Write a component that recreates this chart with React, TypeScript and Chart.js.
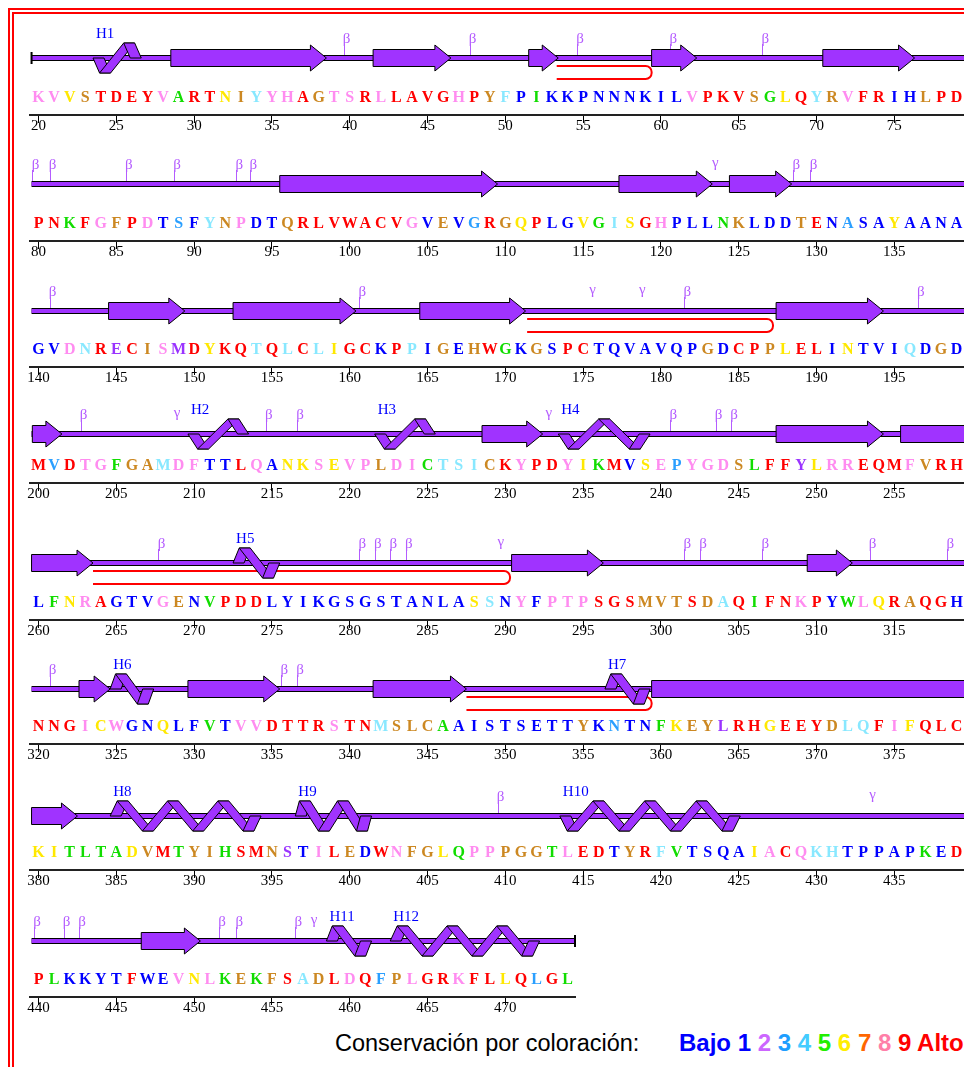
import React, { useEffect, useRef } from 'react';
import { Chart, registerables } from 'chart.js';

Chart.register(...registerables);

// ---------------- data ----------------
const ROW_STARTS = [20, 80, 140, 200, 260, 320, 380, 440];

const SEQ_ROWS = [
  'KVVSTDEYVARTNIYYHAGTSRLLAVGHPYFPIKKPNNNKILVPKVSGLQYRVFRIHLPD',
  'PNKFGFPDTSFYNPDTQRLVWACVGVEVGRGQPLGVGISGHPLLNKLDDTENASAYAANA',
  'GVDNRECISMDYKQTQLCLIGCKPPIGEHWGKGSPCTQVAVQPGDCPPLELINTVIQDGD',
  'MVDTGFGAMDFTTLQANKSEVPLDICTSICKYPDYIKMVSEPYGDSLFFYLRREQMFVRH',
  'LFNRAGTVGENVPDDLYIKGSGSTANLASSNYFPTPSGSMVTSDAQIFNKPYWLQRAQGH',
  'NNGICWGNQLFVTVVDTTRSTNMSLCAAISTSETTYKNTNFKEYLRHGEEYDLQFIFQLC',
  'KITLTADVMTYIHSMNSTILEDWNFGLQPPPGGTLEDTYRFVTSQAIACQKHTPPAPKED',
  'PLKKYTFWEVNLKEKFSADLDQFPLGRKFLLQLGL',
];

// conservation grade (1..9) of every residue
const GRADE_ROWS = [
  '886799998599674889788989999897415111111111899975694789911799',
  '995987981314781179999999817139769116546981115711179131161111',
  '118492978296994949469919417179517199111111171997699161114171',
  '939885774881198166868878854447989986591683888759926889998799',
  '156891118715999111111111111164181888999777974959989158697991',
  '999868116115188999989947775111111117131156772996999744986999',
  '665555679577599721897198776588777589917945111168984411111519',
  '95111191186857579479893789989969395',
];

// beta strands [from, to] (residue boundaries)
const STRANDS: [number, number][] = [
  [28.5, 38.5], [41.5, 46.5], [51.5, 53.4], [59.4, 62.3], [70.4, 76.3],
  [95.5, 109.5], [117.3, 123.3], [124.4, 128.4],
  [144.5, 149.4], [152.5, 160.4], [164.5, 171.3], [187.4, 194.3],
  [199.6, 201.5], [228.5, 232.4], [247.4, 254.3], [255.4, 263.5],
  [290.4, 296.3], [309.4, 312.3],
  [322.6, 324.6], [329.6, 335.5], [341.5, 347.5], [359.4, 382.5],
  [446.6, 450.4],
];

// helices [name, from, to, first extreme (+1 up / -1 down), number of extremes]
const HELICES: [string, number, number, number, number][] = [
  ['H1', 23.5, 26.6, -1, 2],
  ['H2', 209.6, 213.5, -1, 2],
  ['H3', 221.6, 225.5, -1, 2],
  ['H4', 233.4, 239.3, -1, 3],
  ['H5', 272.5, 275.5, 1, 2],
  ['H6', 324.6, 327.4, 1, 2],
  ['H7', 356.4, 359.3, 1, 2],
  ['H8', 384.6, 394.3, 1, 6],
  ['H9', 396.5, 401.4, 1, 4],
  ['H10', 413.5, 425.1, -1, 7],
  ['H11', 458.5, 461.4, 1, 2],
  ['H12', 462.6, 472.2, 1, 6],
];

// disulfide bridges [from, to]
const SS_BONDS: [number, number][] = [[53.3, 59.4], [171.4, 187.2], [263.5, 290.3], [347.5, 359.4]];

const BETA_TURNS = [
  39.8, 47.9, 54.8, 60.8, 66.7,
  79.8, 80.9, 85.8, 88.9, 92.9, 93.8, 128.7, 129.8,
  140.9, 160.8, 181.7, 196.7,
  202.9, 214.8, 216.8, 240.8, 243.7, 244.7,
  267.9, 280.8, 281.8, 282.8, 283.8, 301.7, 302.7, 306.7, 313.6, 318.6,
  320.9, 335.8, 336.8,
  409.7,
  439.9, 441.8, 442.8, 451.8, 452.9, 456.7,
];
const GAMMA_TURNS = [123.5, 175.6, 178.8, 208.9, 232.8, 289.7, 433.6, 457.7];

const SEQ_FIRST = 19.55;
const SEQ_LAST = 474.5;
const TICK_STEP = 5;

const LEGEND_TITLE = 'Conservación por coloración:';
const LEGEND_LOW = 'Bajo';
const LEGEND_HIGH = 'Alto';
const GRADES = [1, 2, 3, 4, 5, 6, 7, 8, 9];

// ---------------- styles / layout ----------------
const SERIF = '"Liberation Serif", "DejaVu Serif", serif';
const SANS = '"Liberation Sans", Arial, sans-serif';
const LETTER_COLORS = ['#000', '#0000ff', '#9a33ff', '#2a9fff', '#88e8ff', '#11dd00', '#ffe800', '#cc8822', '#ff8cf0', '#ff0000'];
const LEGEND_COLORS = ['#000', '#0000ff', '#cc66ff', '#1e9eff', '#44ccff', '#22ee00', '#ffee00', '#ff6600', '#ff7fa8', '#ff0000'];
const PURPLE = '#a033ff';
const OUTLINE = '#000000';
const TURN_COLOR = '#b45cff';
const HELIX_LABEL = '#0000ff';
const BOND_RED = '#ff0000';

const FULL_W = 1000;
const LAST_W = 580;
const CANVAS_H = 150;
const AXIS_LOCAL = 125;
const PAD_L = 30;
const PAD_R = 5;
const RES_PX = 15.56;
const AXIS_Y = [115, 241, 367, 483, 620, 744, 870, 997];
const COIL_OFFSET = [57, 57, 56, 49, 57, 55, 54, 56];
const BODY_H = 8.5;
const HEAD_H = 13;
const HEAD_LEN = 16;
const HELIX_W = 11;
const HELIX_AMP = 15;

function makeRowPlugin(row: number) {
  return {
    id: 'rowDrawing',
    afterDraw(chart: any) {
      const ctx = chart.ctx as CanvasRenderingContext2D;
      const xs = chart.scales.x;
      const ys = chart.scales.y;
      const start = ROW_STARTS[row];
      const seq = SEQ_ROWS[row];
      const grades = GRADE_ROWS[row];
      const last = row === ROW_STARTS.length - 1;
      const X = (v: number) => xs.getPixelForValue(v);
      const axisY = ys.getPixelForValue(AXIS_LOCAL);
      const cy = Math.round(ys.getPixelForValue(AXIS_LOCAL - COIL_OFFSET[row]));
      const lo = Math.max(start - 0.45, SEQ_FIRST);
      const hi = Math.min(xs.max, SEQ_LAST);
      const inRow = (v: number) => v >= start - 0.5 && v < start + seq.length - 0.5;

      ctx.save();
      // coil
      ctx.fillStyle = OUTLINE;
      ctx.fillRect(X(lo), cy - 3, X(hi) - X(lo), 6);
      ctx.fillStyle = PURPLE;
      ctx.fillRect(X(lo), cy - 2, X(hi) - X(lo), 4);
      ctx.fillStyle = OUTLINE;
      if (row === 0) ctx.fillRect(X(lo) - 1, cy - 6, 2, 12);
      if (last) ctx.fillRect(X(hi) - 1, cy - 6, 2, 12);

      // turns
      ctx.fillStyle = TURN_COLOR;
      ctx.strokeStyle = TURN_COLOR;
      ctx.lineWidth = 1;
      ctx.font = `15px ${SERIF}`;
      ctx.textAlign = 'center';
      ctx.textBaseline = 'alphabetic';
      for (const v of BETA_TURNS) {
        if (!inRow(v)) continue;
        const x = X(v);
        ctx.fillText('β', x, cy - 15);
        const lx = Math.round(x - 3) + 0.5;
        ctx.beginPath();
        ctx.moveTo(lx, cy - 14);
        ctx.lineTo(lx, cy - 3);
        ctx.stroke();
      }
      for (const v of GAMMA_TURNS) {
        if (!inRow(v)) continue;
        ctx.fillText('γ', X(v), cy - 17);
      }

      // disulfide bridges
      ctx.strokeStyle = BOND_RED;
      ctx.lineWidth = 2;
      for (const [a, b] of SS_BONDS) {
        if (!inRow(a)) continue;
        const xa = X(a);
        const xb = X(b);
        const yu = cy + 8;
        const yl = cy + 21;
        const r = 6;
        ctx.beginPath();
        ctx.moveTo(xa, yu);
        ctx.lineTo(xb - r, yu);
        ctx.arcTo(xb, yu, xb, yu + r, r);
        ctx.lineTo(xb, yl - r);
        ctx.arcTo(xb, yl, xb - r, yl, r);
        ctx.lineTo(xa, yl);
        ctx.stroke();
      }

      // strands
      ctx.lineWidth = 1;
      ctx.strokeStyle = OUTLINE;
      ctx.fillStyle = PURPLE;
      for (const [a, b] of STRANDS) {
        const s = Math.max(a, lo);
        const e = Math.min(b, xs.max);
        if (e <= s) continue;
        const head = b <= xs.max;
        const x0 = X(s);
        const x1 = X(e);
        const hl = head ? Math.min(HEAD_LEN, (x1 - x0) * 0.7) : 0;
        const xh = x1 - hl;
        ctx.beginPath();
        ctx.moveTo(x0, cy - BODY_H);
        ctx.lineTo(xh, cy - BODY_H);
        if (head) {
          ctx.lineTo(xh, cy - HEAD_H);
          ctx.lineTo(x1, cy);
          ctx.lineTo(xh, cy + HEAD_H);
        } else {
          ctx.lineTo(x1, cy + BODY_H);
        }
        ctx.lineTo(xh, cy + BODY_H);
        ctx.lineTo(x0, cy + BODY_H);
        ctx.closePath();
        ctx.fill();
        ctx.stroke();
      }

      // helices
      for (const [name, a, b, first, k] of HELICES) {
        if (b <= lo || a >= xs.max) continue;
        const xa = X(a);
        const xb = X(b);
        const pts: [number, number][] = [[xa, cy]];
        for (let i = 0; i < k; i++) {
          const dir = first * (i % 2 === 0 ? 1 : -1);
          pts.push([xa + ((i + 0.5) * (xb - xa)) / k - HELIX_W / 2, cy - dir * HELIX_AMP]);
        }
        pts.push([xb - HELIX_W, cy]);
        ctx.fillStyle = PURPLE;
        ctx.strokeStyle = OUTLINE;
        ctx.lineWidth = 1;
        for (let i = 0; i < pts.length - 1; i++) {
          const [px, py] = pts[i];
          const [qx, qy] = pts[i + 1];
          ctx.beginPath();
          ctx.moveTo(px, py);
          ctx.lineTo(px + HELIX_W, py);
          ctx.lineTo(qx + HELIX_W, qy);
          ctx.lineTo(qx, qy);
          ctx.closePath();
          ctx.fill();
          ctx.stroke();
        }
        ctx.fillStyle = HELIX_LABEL;
        ctx.font = `15px ${SERIF}`;
        ctx.textAlign = 'left';
        ctx.textBaseline = 'alphabetic';
        ctx.fillText(name, xa + 3, cy - 20);
      }

      // residues
      ctx.font = `bold 16px ${SERIF}`;
      ctx.textAlign = 'center';
      ctx.textBaseline = 'middle';
      for (let i = 0; i < seq.length; i++) {
        ctx.fillStyle = LETTER_COLORS[Number(grades[i])];
        ctx.fillText(seq[i], X(start + i), axisY - 17);
      }
      ctx.restore();
    },
  };
}

function SequenceRow({ row }: { row: number }) {
  const ref = useRef<HTMLCanvasElement | null>(null);
  const last = row === ROW_STARTS.length - 1;
  const width = last ? LAST_W : FULL_W;

  useEffect(() => {
    if (!ref.current) return;
    const start = ROW_STARTS[row];
    const len = SEQ_ROWS[row].length;
    const min = start - 0.55;
    const max = min + (width - PAD_L - PAD_R) / RES_PX;
    const tickValues: number[] = [];
    for (let v = start; v < start + len; v += TICK_STEP) tickValues.push(v);

    const chart = new Chart(ref.current, {
      type: 'scatter',
      data: { datasets: [] },
      options: {
        animation: false,
        responsive: false,
        events: [],
        layout: { padding: { left: PAD_L, right: PAD_R, top: 0, bottom: 0 } },
        plugins: { legend: { display: false }, tooltip: { enabled: false } },
        scales: {
          y: { type: 'linear', display: false, min: 0, max: CANVAS_H, reverse: true },
          x: {
            type: 'linear',
            bounds: 'data',
            min,
            max,
            position: { y: AXIS_LOCAL },
            afterBuildTicks: (scale: any) => {
              scale.ticks = tickValues.map((v) => ({ value: v }));
            },
            grid: { drawOnChartArea: false, drawTicks: true, tickLength: 7, color: '#000', lineWidth: 1 },
            border: { display: true, color: '#222', width: 2 },
            ticks: {
              color: '#000',
              padding: -3,
              autoSkip: false,
              maxRotation: 0,
              font: { family: SERIF, size: 15, lineHeight: 1 },
            },
          },
        },
      } as any,
      plugins: [makeRowPlugin(row)],
    });
    return () => chart.destroy();
  }, [row, width]);

  return (
    <canvas
      ref={ref}
      width={width}
      height={CANVAS_H}
      style={{ position: 'absolute', left: 0, top: AXIS_Y[row] - AXIS_LOCAL, width, height: CANVAS_H }}
    />
  );
}

export default function App() {
  return (
    <div style={{ position: 'absolute', left: 0, top: 0, width: 964, height: 1067, overflow: 'hidden', background: '#fff' }}>
      <div style={{ position: 'absolute', left: 8, top: 8, width: 1200, height: 1200, border: '2px solid #ff0000' }}>
        <div style={{ position: 'absolute', left: 2, top: 2, width: 1150, height: 1150, border: '2px solid #ff0000' }} />
      </div>
      {ROW_STARTS.map((_, i) => (
        <SequenceRow key={i} row={i} />
      ))}
      <div
        style={{
          position: 'absolute',
          left: 335,
          top: 1029,
          fontFamily: SANS,
          fontSize: 23.5,
          lineHeight: '28px',
          color: '#000',
          whiteSpace: 'nowrap',
        }}
      >
        {LEGEND_TITLE}
      </div>
      <div
        style={{
          position: 'absolute',
          left: 679,
          top: 1029,
          fontFamily: SANS,
          fontSize: 24,
          fontWeight: 'bold',
          lineHeight: '28px',
          whiteSpace: 'nowrap',
        }}
      >
        <span style={{ color: LEGEND_COLORS[1] }}>{LEGEND_LOW} </span>
        {GRADES.map((g) => (
          <span key={g} style={{ color: LEGEND_COLORS[g] }}>
            {g}{' '}
          </span>
        ))}
        <span style={{ color: LEGEND_COLORS[9] }}>{LEGEND_HIGH}</span>
      </div>
    </div>
  );
}
